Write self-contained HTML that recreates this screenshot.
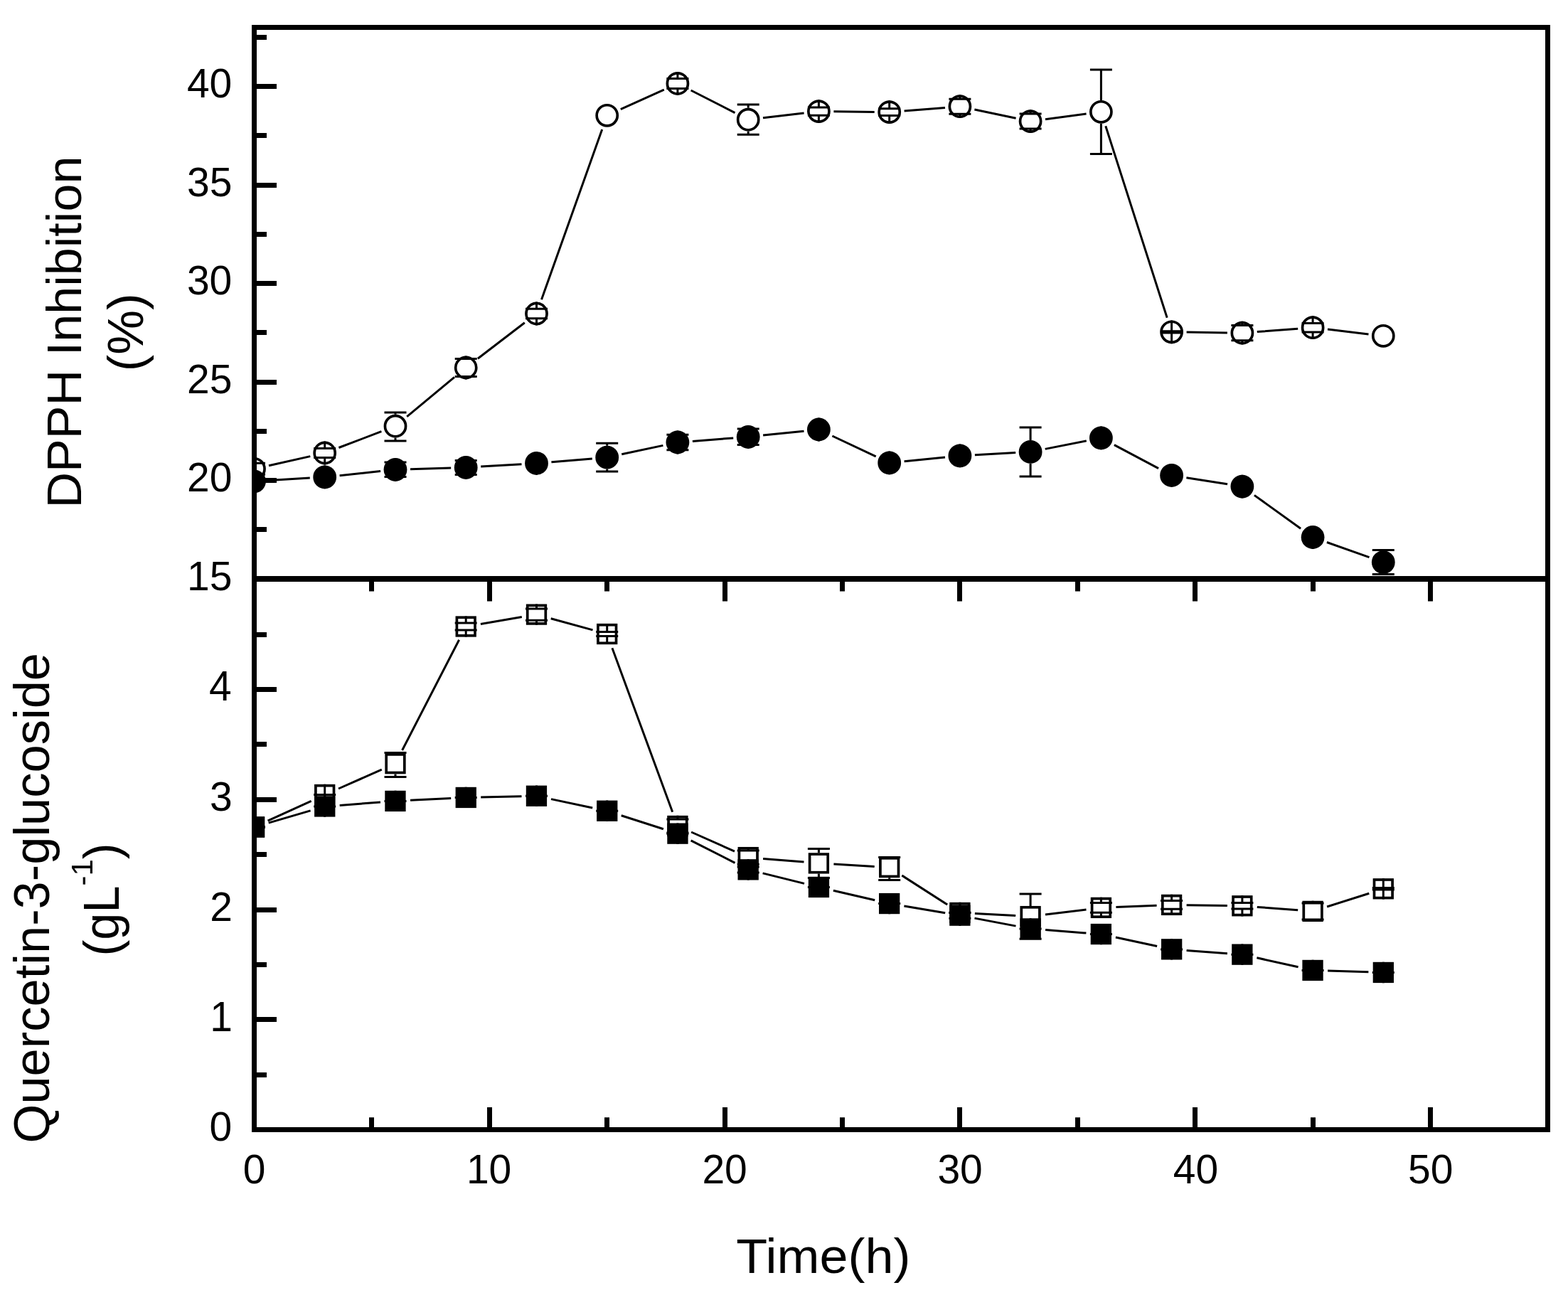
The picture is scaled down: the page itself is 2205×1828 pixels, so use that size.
<!DOCTYPE html>
<html><head><meta charset="utf-8"><style>html,body{margin:0;padding:0;background:#fff;width:2205px;height:1828px;overflow:hidden}svg{display:block}</style></head>
<body><svg width="2205" height="1828" viewBox="0 0 2205 1828"><rect width="2205" height="1828" fill="#fff"/><defs><clipPath id="cu"><rect x="357.5" y="38.5" width="1819.0" height="775.5"/></clipPath><clipPath id="cl"><rect x="357.5" y="814.0" width="1819.0" height="774.5"/></clipPath></defs><g clip-path="url(#cu)"><path d="M378.0 654.7L436.3 641.6M476.4 629.5L536.4 606.7M572.2 585.8L639.0 530.4M671.9 504.2L737.8 453.8M761.5 421.2L846.7 182.1M872.8 153.6L933.8 126.1M971.6 127.0L1033.5 158.6M1073.0 165.8L1130.6 159.0M1172.4 156.8L1229.7 157.4M1271.6 155.9L1329.0 151.4M1370.4 154.0L1428.6 166.3M1470.0 167.8L1527.6 160.1M1554.8 177.3L1641.2 446.8M1668.6 467.1L1725.9 467.9M1767.8 466.6L1825.2 462.3M1867.0 463.1L1924.5 469.9" fill="none" stroke="#000" stroke-width="3.0"/><path d="M357.5 642.9L357.5 651.3M342.0 651.3L373.0 651.3M357.5 675.7L357.5 667.3M342.0 667.3L373.0 667.3M456.7 620.6L456.7 630.5M441.2 630.5L472.2 630.5M456.7 653.4L456.7 643.5M441.2 643.5L472.2 643.5M556.0 582.8L556.0 580.0M540.5 580.0L571.5 580.0M556.0 615.6L556.0 620.0M540.5 620.0L571.5 620.0M655.2 500.6L655.2 504.5M639.7 504.5L670.7 504.5M655.2 533.4L655.2 529.5M639.7 529.5L670.7 529.5M754.5 424.6L754.5 434.3M739.0 434.3L770.0 434.3M754.5 457.4L754.5 447.7M739.0 447.7L770.0 447.7M952.9 101.0L952.9 110.4M937.4 110.4L968.4 110.4M952.9 133.8L952.9 124.4M937.4 124.4L968.4 124.4M1052.2 151.8L1052.2 147.1M1036.7 147.1L1067.7 147.1M1052.2 184.6L1052.2 189.3M1036.7 189.3L1067.7 189.3M1151.4 140.2L1151.4 150.9M1135.9 150.9L1166.9 150.9M1151.4 173.0L1151.4 162.3M1135.9 162.3L1166.9 162.3M1250.7 141.2L1250.7 152.8M1235.2 152.8L1266.2 152.8M1250.7 174.0L1250.7 162.4M1235.2 162.4L1266.2 162.4M1349.9 133.3L1349.9 139.2M1334.4 139.2L1365.4 139.2M1349.9 166.1L1349.9 160.2M1334.4 160.2L1365.4 160.2M1449.1 154.2L1449.1 160.1M1433.6 160.1L1464.6 160.1M1449.1 187.0L1449.1 181.1M1433.6 181.1L1464.6 181.1M1548.4 140.9L1548.4 98.1M1532.9 98.1L1563.9 98.1M1548.4 173.7L1548.4 216.5M1532.9 216.5L1563.9 216.5M1647.6 450.4L1647.6 465.7M1632.1 465.7L1663.1 465.7M1647.6 483.2L1647.6 467.9M1632.1 467.9L1663.1 467.9M1746.9 451.8L1746.9 457.6M1731.4 457.6L1762.4 457.6M1746.9 484.6L1746.9 478.8M1731.4 478.8L1762.4 478.8M1846.1 444.3L1846.1 454.5M1830.6 454.5L1861.6 454.5M1846.1 477.1L1846.1 466.9M1830.6 466.9L1861.6 466.9" fill="none" stroke="#000" stroke-width="3.0"/><circle cx="357.5" cy="659.3" r="14.549999999999999" fill="none" stroke="#000" stroke-width="3.7"/><circle cx="456.7" cy="637.0" r="14.549999999999999" fill="none" stroke="#000" stroke-width="3.7"/><circle cx="556.0" cy="599.2" r="14.549999999999999" fill="none" stroke="#000" stroke-width="3.7"/><circle cx="655.2" cy="517.0" r="14.549999999999999" fill="none" stroke="#000" stroke-width="3.7"/><circle cx="754.5" cy="441.0" r="14.549999999999999" fill="none" stroke="#000" stroke-width="3.7"/><circle cx="853.7" cy="162.3" r="14.549999999999999" fill="none" stroke="#000" stroke-width="3.7"/><circle cx="952.9" cy="117.4" r="14.549999999999999" fill="none" stroke="#000" stroke-width="3.7"/><circle cx="1052.2" cy="168.2" r="14.549999999999999" fill="none" stroke="#000" stroke-width="3.7"/><circle cx="1151.4" cy="156.6" r="14.549999999999999" fill="none" stroke="#000" stroke-width="3.7"/><circle cx="1250.7" cy="157.6" r="14.549999999999999" fill="none" stroke="#000" stroke-width="3.7"/><circle cx="1349.9" cy="149.7" r="14.549999999999999" fill="none" stroke="#000" stroke-width="3.7"/><circle cx="1449.1" cy="170.6" r="14.549999999999999" fill="none" stroke="#000" stroke-width="3.7"/><circle cx="1548.4" cy="157.3" r="14.549999999999999" fill="none" stroke="#000" stroke-width="3.7"/><circle cx="1647.6" cy="466.8" r="14.549999999999999" fill="none" stroke="#000" stroke-width="3.7"/><circle cx="1746.9" cy="468.2" r="14.549999999999999" fill="none" stroke="#000" stroke-width="3.7"/><circle cx="1846.1" cy="460.7" r="14.549999999999999" fill="none" stroke="#000" stroke-width="3.7"/><circle cx="1945.3" cy="472.3" r="14.549999999999999" fill="none" stroke="#000" stroke-width="3.7"/></g><g clip-path="url(#cu)"><path d="M378.5 675.6L435.8 672.1M477.6 668.7L535.1 662.5M577.0 659.7L634.2 658.0M676.2 656.1L733.5 652.7M775.4 649.7L832.8 644.9M874.2 638.8L932.4 626.4M973.9 620.4L1031.2 615.9M1073.1 612.1L1130.5 606.2M1170.4 613.0L1231.7 641.9M1271.6 648.8L1329.0 643.0M1370.9 639.7L1428.2 636.6M1469.7 631.4L1527.8 619.9M1566.9 625.7L1629.1 658.6M1668.4 671.7L1726.1 680.8M1763.9 696.4L1829.1 743.2M1865.9 762.5L1925.5 783.6" fill="none" stroke="#000" stroke-width="3.0"/><path d="M357.5 660.4L357.5 676.8M342.0 676.8L373.0 676.8M357.5 693.2L357.5 676.8M342.0 676.8L373.0 676.8M456.7 654.5L456.7 670.9M441.2 670.9L472.2 670.9M456.7 687.3L456.7 670.9M441.2 670.9L472.2 670.9M556.0 643.9L556.0 650.0M540.5 650.0L571.5 650.0M556.0 676.7L556.0 670.6M540.5 670.6L571.5 670.6M655.2 641.0L655.2 647.4M639.7 647.4L670.7 647.4M655.2 673.8L655.2 667.4M639.7 667.4L670.7 667.4M754.5 635.0L754.5 648.4M739.0 648.4L770.0 648.4M754.5 667.8L754.5 654.4M739.0 654.4L770.0 654.4M853.7 626.8L853.7 623.3M838.2 623.3L869.2 623.3M853.7 659.6L853.7 663.1M838.2 663.1L869.2 663.1M952.9 605.6L952.9 611.3M937.4 611.3L968.4 611.3M952.9 638.4L952.9 632.7M937.4 632.7L968.4 632.7M1052.2 597.9L1052.2 603.0M1036.7 603.0L1067.7 603.0M1052.2 630.7L1052.2 625.6M1036.7 625.6L1067.7 625.6M1151.4 587.6L1151.4 602.0M1135.9 602.0L1166.9 602.0M1151.4 620.4L1151.4 606.0M1135.9 606.0L1166.9 606.0M1250.7 634.5L1250.7 650.9M1235.2 650.9L1266.2 650.9M1250.7 667.3L1250.7 650.9M1235.2 650.9L1266.2 650.9M1349.9 624.5L1349.9 638.9M1334.4 638.9L1365.4 638.9M1349.9 657.3L1349.9 642.9M1334.4 642.9L1365.4 642.9M1449.1 619.0L1449.1 600.9M1433.6 600.9L1464.6 600.9M1449.1 651.8L1449.1 669.9M1433.6 669.9L1464.6 669.9M1548.4 599.5L1548.4 615.9M1532.9 615.9L1563.9 615.9M1548.4 632.3L1548.4 615.9M1532.9 615.9L1563.9 615.9M1647.6 652.0L1647.6 668.4M1632.1 668.4L1663.1 668.4M1647.6 684.8L1647.6 668.4M1632.1 668.4L1663.1 668.4M1746.9 667.7L1746.9 682.1M1731.4 682.1L1762.4 682.1M1746.9 700.5L1746.9 686.1M1731.4 686.1L1762.4 686.1M1846.1 739.1L1846.1 755.5M1830.6 755.5L1861.6 755.5M1846.1 771.9L1846.1 755.5M1830.6 755.5L1861.6 755.5M1945.3 774.2L1945.3 773.6M1929.8 773.6L1960.8 773.6M1945.3 807.0L1945.3 807.6M1929.8 807.6L1960.8 807.6" fill="none" stroke="#000" stroke-width="3.0"/><circle cx="357.5" cy="676.8" r="16.4" fill="#000"/><circle cx="456.7" cy="670.9" r="16.4" fill="#000"/><circle cx="556.0" cy="660.3" r="16.4" fill="#000"/><circle cx="655.2" cy="657.4" r="16.4" fill="#000"/><circle cx="754.5" cy="651.4" r="16.4" fill="#000"/><circle cx="853.7" cy="643.2" r="16.4" fill="#000"/><circle cx="952.9" cy="622.0" r="16.4" fill="#000"/><circle cx="1052.2" cy="614.3" r="16.4" fill="#000"/><circle cx="1151.4" cy="604.0" r="16.4" fill="#000"/><circle cx="1250.7" cy="650.9" r="16.4" fill="#000"/><circle cx="1349.9" cy="640.9" r="16.4" fill="#000"/><circle cx="1449.1" cy="635.4" r="16.4" fill="#000"/><circle cx="1548.4" cy="615.9" r="16.4" fill="#000"/><circle cx="1647.6" cy="668.4" r="16.4" fill="#000"/><circle cx="1746.9" cy="684.1" r="16.4" fill="#000"/><circle cx="1846.1" cy="755.5" r="16.4" fill="#000"/><circle cx="1945.3" cy="790.6" r="16.4" fill="#000"/></g><g clip-path="url(#cl)"><path d="M376.6 1154.2L437.7 1126.3M476.0 1109.0L536.8 1082.2M565.6 1055.0L645.6 899.7M675.9 877.5L733.8 867.6M774.7 869.7L833.5 885.9M860.9 911.2L945.7 1141.8M972.1 1170.0L1033.0 1197.1M1073.1 1207.4L1130.5 1212.1M1172.4 1215.1L1229.7 1218.4M1268.3 1231.0L1332.2 1272.1M1370.9 1284.6L1428.2 1287.5M1470.0 1286.0L1527.5 1279.0M1569.4 1275.6L1626.6 1273.2M1668.6 1272.7L1725.9 1273.5M1767.8 1275.4L1825.2 1279.8M1866.1 1275.0L1925.3 1256.2" fill="none" stroke="#000" stroke-width="3.0"/><path d="M357.5 1148.3L357.5 1163.0M342.0 1163.0L373.0 1163.0M357.5 1177.7L357.5 1163.0M342.0 1163.0L373.0 1163.0M456.7 1102.8L456.7 1117.5M441.2 1117.5L472.2 1117.5M456.7 1132.2L456.7 1117.5M441.2 1117.5L472.2 1117.5M556.0 1059.0L556.0 1058.5M540.5 1058.5L571.5 1058.5M556.0 1088.4L556.0 1092.5M540.5 1092.5L571.5 1092.5M655.2 866.4L655.2 876.0M639.7 876.0L670.7 876.0M655.2 895.6L655.2 886.0M639.7 886.0L670.7 886.0M754.5 849.5L754.5 855.9M739.0 855.9L770.0 855.9M754.5 878.8L754.5 872.3M739.0 872.3L770.0 872.3M853.7 876.9L853.7 888.4M838.2 888.4L869.2 888.4M853.7 906.1L853.7 894.6M838.2 894.6L869.2 894.6M952.9 1146.8L952.9 1151.9M937.4 1151.9L968.4 1151.9M952.9 1176.2L952.9 1171.1M937.4 1171.1L968.4 1171.1M1052.2 1190.9L1052.2 1196.0M1036.7 1196.0L1067.7 1196.0M1052.2 1220.2L1052.2 1215.2M1036.7 1215.2L1067.7 1215.2M1151.4 1199.2L1151.4 1193.4M1135.9 1193.4L1166.9 1193.4M1151.4 1228.6L1151.4 1234.4M1135.9 1234.4L1166.9 1234.4M1250.7 1204.9L1250.7 1205.6M1235.2 1205.6L1266.2 1205.6M1250.7 1234.2L1250.7 1237.6M1235.2 1237.6L1266.2 1237.6M1349.9 1268.8L1349.9 1283.5M1334.4 1283.5L1365.4 1283.5M1349.9 1298.2L1349.9 1283.5M1334.4 1283.5L1365.4 1283.5M1449.1 1273.9L1449.1 1256.9M1433.6 1256.9L1464.6 1256.9M1449.1 1303.2L1449.1 1320.3M1433.6 1320.3L1464.6 1320.3M1548.4 1261.8L1548.4 1269.5M1532.9 1269.5L1563.9 1269.5M1548.4 1291.1L1548.4 1283.3M1532.9 1283.3L1563.9 1283.3M1647.6 1257.8L1647.6 1266.6M1632.1 1266.6L1663.1 1266.6M1647.6 1287.1L1647.6 1278.2M1632.1 1278.2L1663.1 1278.2M1746.9 1259.1L1746.9 1269.6M1731.4 1269.6L1762.4 1269.6M1746.9 1288.5L1746.9 1278.0M1731.4 1278.0L1762.4 1278.0M1846.1 1266.8L1846.1 1269.9M1830.6 1269.9L1861.6 1269.9M1846.1 1296.1L1846.1 1292.9M1830.6 1292.9L1861.6 1292.9M1945.3 1235.1L1945.3 1248.6M1929.8 1248.6L1960.8 1248.6M1945.3 1264.5L1945.3 1251.0M1929.8 1251.0L1960.8 1251.0" fill="none" stroke="#000" stroke-width="3.0"/><rect x="344.7" y="1150.2" width="25.6" height="25.6" fill="none" stroke="#000" stroke-width="3.7"/><rect x="443.9" y="1104.7" width="25.6" height="25.6" fill="none" stroke="#000" stroke-width="3.7"/><rect x="543.2" y="1060.9" width="25.6" height="25.6" fill="none" stroke="#000" stroke-width="3.7"/><rect x="642.4" y="868.2" width="25.6" height="25.6" fill="none" stroke="#000" stroke-width="3.7"/><rect x="741.7" y="851.3" width="25.6" height="25.6" fill="none" stroke="#000" stroke-width="3.7"/><rect x="840.9" y="878.7" width="25.6" height="25.6" fill="none" stroke="#000" stroke-width="3.7"/><rect x="940.1" y="1148.7" width="25.6" height="25.6" fill="none" stroke="#000" stroke-width="3.7"/><rect x="1039.4" y="1192.8" width="25.6" height="25.6" fill="none" stroke="#000" stroke-width="3.7"/><rect x="1138.6" y="1201.1" width="25.6" height="25.6" fill="none" stroke="#000" stroke-width="3.7"/><rect x="1237.9" y="1206.8" width="25.6" height="25.6" fill="none" stroke="#000" stroke-width="3.7"/><rect x="1337.1" y="1270.7" width="25.6" height="25.6" fill="none" stroke="#000" stroke-width="3.7"/><rect x="1436.3" y="1275.8" width="25.6" height="25.6" fill="none" stroke="#000" stroke-width="3.7"/><rect x="1535.6" y="1263.6" width="25.6" height="25.6" fill="none" stroke="#000" stroke-width="3.7"/><rect x="1634.8" y="1259.6" width="25.6" height="25.6" fill="none" stroke="#000" stroke-width="3.7"/><rect x="1734.1" y="1261.0" width="25.6" height="25.6" fill="none" stroke="#000" stroke-width="3.7"/><rect x="1833.3" y="1268.6" width="25.6" height="25.6" fill="none" stroke="#000" stroke-width="3.7"/><rect x="1932.5" y="1237.0" width="25.6" height="25.6" fill="none" stroke="#000" stroke-width="3.7"/></g><g clip-path="url(#cl)"><path d="M377.7 1157.1L436.6 1139.9M477.7 1132.4L535.0 1128.0M577.0 1125.3L634.2 1122.5M676.2 1121.0L733.5 1119.7M775.0 1123.6L833.2 1136.0M873.7 1146.7L932.9 1165.8M971.6 1181.8L1033.5 1213.3M1072.6 1227.9L1131.0 1242.4M1171.9 1252.2L1230.2 1265.8M1271.4 1274.1L1329.2 1283.7M1370.5 1291.1L1428.5 1302.1M1470.1 1307.6L1527.4 1312.0M1568.9 1318.0L1627.1 1330.5M1668.6 1336.4L1725.9 1340.7M1767.4 1346.8L1825.6 1359.8M1867.1 1365.1L1924.4 1366.8" fill="none" stroke="#000" stroke-width="3.0"/><path d="M357.5 1148.3L357.5 1163.0M342.0 1163.0L373.0 1163.0M357.5 1177.7L357.5 1163.0M342.0 1163.0L373.0 1163.0M456.7 1119.3L456.7 1134.0M441.2 1134.0L472.2 1134.0M456.7 1148.7L456.7 1134.0M441.2 1134.0L472.2 1134.0M556.0 1111.8L556.0 1126.4M540.5 1126.4L571.5 1126.4M556.0 1141.1L556.0 1126.4M540.5 1126.4L571.5 1126.4M655.2 1106.8L655.2 1121.4M639.7 1121.4L670.7 1121.4M655.2 1136.1L655.2 1121.4M639.7 1121.4L670.7 1121.4M754.5 1104.6L754.5 1119.3M739.0 1119.3L770.0 1119.3M754.5 1134.0L754.5 1119.3M739.0 1119.3L770.0 1119.3M853.7 1125.6L853.7 1140.3M838.2 1140.3L869.2 1140.3M853.7 1155.0L853.7 1140.3M838.2 1140.3L869.2 1140.3M952.9 1157.5L952.9 1172.2M937.4 1172.2L968.4 1172.2M952.9 1186.9L952.9 1172.2M937.4 1172.2L968.4 1172.2M1052.2 1208.2L1052.2 1218.9M1036.7 1218.9L1067.7 1218.9M1052.2 1237.6L1052.2 1226.9M1036.7 1226.9L1067.7 1226.9M1151.4 1232.8L1151.4 1247.4M1135.9 1247.4L1166.9 1247.4M1151.4 1262.1L1151.4 1247.4M1135.9 1247.4L1166.9 1247.4M1250.7 1255.9L1250.7 1270.6M1235.2 1270.6L1266.2 1270.6M1250.7 1285.2L1250.7 1270.6M1235.2 1270.6L1266.2 1270.6M1349.9 1272.5L1349.9 1283.2M1334.4 1283.2L1365.4 1283.2M1349.9 1301.9L1349.9 1291.2M1334.4 1291.2L1365.4 1291.2M1449.1 1291.3L1449.1 1306.0M1433.6 1306.0L1464.6 1306.0M1449.1 1320.7L1449.1 1306.0M1433.6 1306.0L1464.6 1306.0M1548.4 1298.9L1548.4 1313.6M1532.9 1313.6L1563.9 1313.6M1548.4 1328.2L1548.4 1313.6M1532.9 1313.6L1563.9 1313.6M1647.6 1320.2L1647.6 1334.9M1632.1 1334.9L1663.1 1334.9M1647.6 1349.6L1647.6 1334.9M1632.1 1334.9L1663.1 1334.9M1746.9 1327.5L1746.9 1342.2M1731.4 1342.2L1762.4 1342.2M1746.9 1356.9L1746.9 1342.2M1731.4 1342.2L1762.4 1342.2M1846.1 1349.8L1846.1 1364.4M1830.6 1364.4L1861.6 1364.4M1846.1 1379.1L1846.1 1364.4M1830.6 1364.4L1861.6 1364.4M1945.3 1352.8L1945.3 1367.5M1929.8 1367.5L1960.8 1367.5M1945.3 1382.2L1945.3 1367.5M1929.8 1367.5L1960.8 1367.5" fill="none" stroke="#000" stroke-width="3.0"/><rect x="342.9" y="1148.3" width="29.3" height="29.3" fill="#000"/><rect x="442.1" y="1119.3" width="29.3" height="29.3" fill="#000"/><rect x="541.3" y="1111.8" width="29.3" height="29.3" fill="#000"/><rect x="640.6" y="1106.8" width="29.3" height="29.3" fill="#000"/><rect x="739.8" y="1104.6" width="29.3" height="29.3" fill="#000"/><rect x="839.1" y="1125.6" width="29.3" height="29.3" fill="#000"/><rect x="938.3" y="1157.5" width="29.3" height="29.3" fill="#000"/><rect x="1037.5" y="1208.2" width="29.3" height="29.3" fill="#000"/><rect x="1136.8" y="1232.8" width="29.3" height="29.3" fill="#000"/><rect x="1236.0" y="1255.9" width="29.3" height="29.3" fill="#000"/><rect x="1335.2" y="1272.5" width="29.3" height="29.3" fill="#000"/><rect x="1434.5" y="1291.3" width="29.3" height="29.3" fill="#000"/><rect x="1533.7" y="1298.9" width="29.3" height="29.3" fill="#000"/><rect x="1633.0" y="1320.2" width="29.3" height="29.3" fill="#000"/><rect x="1732.2" y="1327.5" width="29.3" height="29.3" fill="#000"/><rect x="1831.4" y="1349.8" width="29.3" height="29.3" fill="#000"/><rect x="1930.7" y="1352.8" width="29.3" height="29.3" fill="#000"/></g><path d="M357.5 814.5H389.0M357.5 675.5H389.0M357.5 537.5H389.0M357.5 398.5H389.0M357.5 260.5H389.0M357.5 121.5H389.0M357.5 744.5H375.0M357.5 606.5H375.0M357.5 467.5H375.0M357.5 329.5H375.0M357.5 190.5H375.0M357.5 52.5H375.0M357.5 1588.5H389.0M357.5 1433.5H389.0M357.5 1279.5H389.0M357.5 1124.5H389.0M357.5 969.5H389.0M357.5 1511.5H375.0M357.5 1356.5H375.0M357.5 1201.5H375.0M357.5 1046.5H375.0M357.5 892.5H375.0M688.5 814.0V845.5M688.5 1588.5V1557.0M1019.5 814.0V845.5M1019.5 1588.5V1557.0M1349.5 814.0V845.5M1349.5 1588.5V1557.0M1680.5 814.0V845.5M1680.5 1588.5V1557.0M2011.5 814.0V845.5M2011.5 1588.5V1557.0M522.5 814.0V831.5M522.5 1588.5V1571.3M853.5 814.0V831.5M853.5 1588.5V1571.3M1184.5 814.0V831.5M1184.5 1588.5V1571.3M1515.5 814.0V831.5M1515.5 1588.5V1571.3M1846.5 814.0V831.5M1846.5 1588.5V1571.3" stroke="#000" stroke-width="7.0" fill="none"/><path d="M357.5 38.5H2176.5M357.5 1588.5H2176.5" stroke="#000" stroke-width="7" fill="none" stroke-linecap="square"/><path d="M357.5 814.0H2176.5" stroke="#000" stroke-width="8" fill="none"/><path d="M357.5 38.5V1588.5M2176.5 38.5V1588.5" stroke="#000" stroke-width="7" fill="none" stroke-linecap="square"/><g transform="matrix(1.00000 0 0 1.01328 0.482 -11.089)"><text font-family="Liberation Sans, Arial, sans-serif" font-size="57" text-anchor="end" x="326" y="830.0">15</text></g><g transform="matrix(1.00000 0 0 1.00163 0.322 -1.687)"><text font-family="Liberation Sans, Arial, sans-serif" font-size="57" text-anchor="end" x="326" y="691.5">20</text></g><g transform="matrix(1.00000 0 0 1.00153 0.482 -0.911)"><text font-family="Liberation Sans, Arial, sans-serif" font-size="57" text-anchor="end" x="326" y="553.0">25</text></g><g transform="matrix(1.00000 0 0 1.00134 0.322 -1.132)"><text font-family="Liberation Sans, Arial, sans-serif" font-size="57" text-anchor="end" x="326" y="414.5">30</text></g><g transform="matrix(1.00000 0 0 1.00144 0.482 -0.472)"><text font-family="Liberation Sans, Arial, sans-serif" font-size="57" text-anchor="end" x="326" y="276.0">35</text></g><g transform="matrix(1.00000 0 0 1.00172 0.322 -0.798)"><text font-family="Liberation Sans, Arial, sans-serif" font-size="57" text-anchor="end" x="326" y="137.5">40</text></g><g transform="matrix(1.00000 0 0 1.00172 0.322 -3.328)"><text font-family="Liberation Sans, Arial, sans-serif" font-size="57" text-anchor="end" x="326" y="1604.5">0</text></g><g transform="matrix(1.00000 0 0 1.02500 0.827 -36.100)"><text font-family="Liberation Sans, Arial, sans-serif" font-size="57" text-anchor="end" x="326" y="1449.8">1</text></g><g transform="matrix(1.00000 0 0 1.01318 0.922 -16.668)"><text font-family="Liberation Sans, Arial, sans-serif" font-size="57" text-anchor="end" x="326" y="1295.0">2</text></g><g transform="matrix(1.00000 0 0 1.00192 0.600 -2.003)"><text font-family="Liberation Sans, Arial, sans-serif" font-size="57" text-anchor="end" x="326" y="1140.2">3</text></g><g transform="matrix(1.00000 0 0 1.02500 -0.278 -24.750)"><text font-family="Liberation Sans, Arial, sans-serif" font-size="57" text-anchor="end" x="326" y="985.5">4</text></g><g transform="matrix(1.00000 0 0 0.99392 0.202 9.254)"><text font-family="Liberation Sans, Arial, sans-serif" font-size="57" text-anchor="middle" x="357.5" y="1665">0</text></g><g transform="matrix(1.00000 0 0 0.99439 -0.661 8.476)"><text font-family="Liberation Sans, Arial, sans-serif" font-size="57" text-anchor="middle" x="688.3" y="1665">10</text></g><g transform="matrix(1.00000 0 0 0.99392 -0.006 9.254)"><text font-family="Liberation Sans, Arial, sans-serif" font-size="57" text-anchor="middle" x="1019.1" y="1665">20</text></g><g transform="matrix(1.00000 0 0 0.99420 0.188 8.778)"><text font-family="Liberation Sans, Arial, sans-serif" font-size="57" text-anchor="middle" x="1349.9" y="1665">30</text></g><g transform="matrix(1.00000 0 0 0.99392 0.737 9.254)"><text font-family="Liberation Sans, Arial, sans-serif" font-size="57" text-anchor="middle" x="1680.7" y="1665">40</text></g><g transform="matrix(1.00000 0 0 0.99382 0.165 9.412)"><text font-family="Liberation Sans, Arial, sans-serif" font-size="57" text-anchor="middle" x="2011.5" y="1665">50</text></g><g transform="matrix(1.04224 0 0 1.00156 -46.992 -2.819)"><text font-family="Liberation Sans, Arial, sans-serif" font-size="69" text-anchor="middle" x="1156" y="1790">Time(h)</text></g><g transform="matrix(0.99083 0 0 1.01639 0.496 -6.564)"><text font-family="Liberation Sans, Arial, sans-serif" font-size="69" text-anchor="middle" transform="translate(115,466) rotate(-90)">DPPH Inhibition</text></g><g transform="matrix(1.01562 0 0 1.02275 -3.259 -10.224)"><text font-family="Liberation Sans, Arial, sans-serif" font-size="69" text-anchor="middle" transform="translate(201,467) rotate(-90)">(%)</text></g><g transform="matrix(1.03125 0 0 1.02150 -1.694 -29.517)"><text font-family="Liberation Sans, Arial, sans-serif" font-size="69" text-anchor="middle" transform="translate(69,1265) rotate(-90)">Quercetin-3-glucoside</text></g><g transform="matrix(1.02500 0 0 0.99321 -3.725 7.590)"><text font-family="Liberation Sans, Arial, sans-serif" font-size="69" text-anchor="middle" transform="translate(167,1266) rotate(-90)">(gL<tspan font-size="42" dy="-37">-1</tspan><tspan dy="37">)</tspan></text></g></svg></body></html>
